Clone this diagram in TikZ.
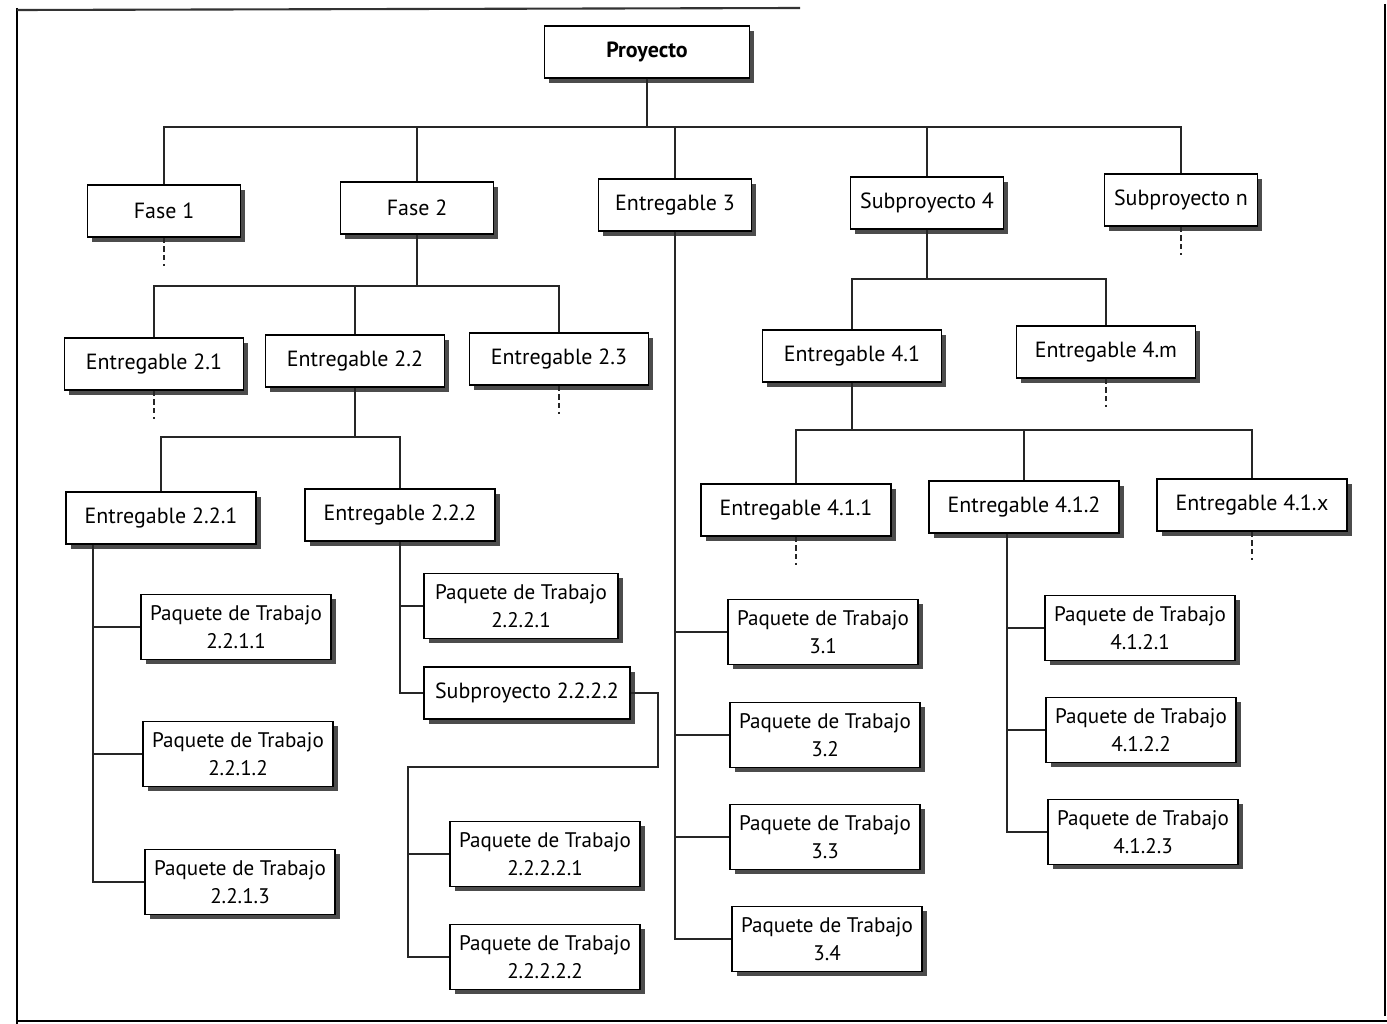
\documentclass[tikz,border=0pt]{standalone}
\usepackage{fontspec}
\setmainfont{PT Sans}
\usepackage{tikz}
\usetikzlibrary{shadows,calc}

\begin{document}
\begin{tikzpicture}[
  x=0.02cm,y=-0.02cm,
  box/.style={rectangle,draw=black,line width=1pt,fill=white,inner sep=0pt,
              minimum height=1.03cm,align=center,font=\fontsize{12.5}{16}\selectfont,
              drop shadow={shadow xshift=2.8pt,shadow yshift=-2.8pt,opacity=1,fill=black!70}},
  l1/.style={box,minimum width=3.06cm},
  l2/.style={box,minimum width=3.58cm},
  l3/.style={box,minimum width=3.8cm},
  pkg/.style={box,minimum width=3.8cm,minimum height=1.3cm,font=\fontsize{12}{16}\selectfont},
  lnk/.style={line width=1pt,black!85},
  cont/.style={lnk,dash pattern=on 3pt off 2pt}
]
\useasboundingbox (0,0) rectangle (1387,1024);
\draw[line width=1.2pt] (17,8) -- (17,1024);
\draw[line width=1.2pt,black!80] (17,10) -- (800,8);
\draw[line width=1.2pt] (1385,4) -- (1385,1016);
\draw[line width=1.4pt] (17,1021) -- (1387,1021);

\node[box,minimum width=4.1cm,font=\fontsize{12.5}{16}\selectfont\bfseries] (proj) at (647,52) {Proyecto};
\node[l1] (f1) at (164,211) {Fase 1};
\node[l1] (f2) at (417,208) {Fase 2};
\node[l1] (e3) at (675,205) {Entregable 3};
\node[l1] (s4) at (927,203) {Subproyecto 4};
\node[l1] (sn) at (1181,200) {Subproyecto n};

\node[l2] (e21) at (154,364) {Entregable 2.1};
\node[l2] (e22) at (355,361) {Entregable 2.2};
\node[l2] (e23) at (559,359) {Entregable 2.3};
\node[l2] (e41) at (852,356) {Entregable 4.1};
\node[l2] (e4m) at (1106,352) {Entregable 4.m};

\node[l3] (e221) at (161,518) {Entregable 2.2.1};
\node[l3] (e222) at (400,515) {Entregable 2.2.2};
\node[l3] (e411) at (796,510) {Entregable 4.1.1};
\node[l3] (e412) at (1024,507) {Entregable 4.1.2};
\node[l3] (e41x) at (1252,505) {Entregable 4.1.x};

\node[pkg] (pt2211) at (236,627) {Paquete de Trabajo\\2.2.1.1};
\node[pkg] (pt2212) at (238,754) {Paquete de Trabajo\\2.2.1.2};
\node[pkg] (pt2213) at (240,882) {Paquete de Trabajo\\2.2.1.3};
\node[pkg,minimum width=3.88cm] (pt2221) at (521,606) {Paquete de Trabajo\\2.2.2.1};
\node[l3,minimum width=4.12cm] (s2222) at (527,693) {Subproyecto 2.2.2.2};
\node[pkg] (pt22221) at (545,854) {Paquete de Trabajo\\2.2.2.2.1};
\node[pkg] (pt22222) at (545,957) {Paquete de Trabajo\\2.2.2.2.2};
\node[pkg] (pt31) at (823,632) {Paquete de Trabajo\\3.1};
\node[pkg] (pt32) at (825,735) {Paquete de Trabajo\\3.2};
\node[pkg] (pt33) at (825,837) {Paquete de Trabajo\\3.3};
\node[pkg] (pt34) at (827,939) {Paquete de Trabajo\\3.4};
\node[pkg] (pt4121) at (1140,628) {Paquete de Trabajo\\4.1.2.1};
\node[pkg] (pt4122) at (1141,730) {Paquete de Trabajo\\4.1.2.2};
\node[pkg] (pt4123) at (1143,832) {Paquete de Trabajo\\4.1.2.3};

\coordinate (y1) at (0,127);
\coordinate (y2) at (0,286);
\coordinate (y3) at (0,437);
\coordinate (y4) at (0,279);
\coordinate (y5) at (0,430);
\coordinate (x221) at (93,0);
\coordinate (x412) at (1007,0);
\coordinate (k1) at (658,767);
\coordinate (k2) at (408,767);

\foreach \n in {f1,f2,e3,s4,sn} \draw[lnk] (proj.south) -- (proj.south |- y1) -| (\n.north);
\foreach \n in {e21,e22,e23} \draw[lnk] (f2.south) -- (f2.south |- y2) -| (\n.north);
\foreach \n in {e221,e222} \draw[lnk] (e22.south) -- (e22.south |- y3) -| (\n.north);
\foreach \n in {e41,e4m} \draw[lnk] (s4.south) -- (s4.south |- y4) -| (\n.north);
\foreach \n in {e411,e412,e41x} \draw[lnk] (e41.south) -- (e41.south |- y5) -| (\n.north);

\foreach \n in {pt2211,pt2212,pt2213} \draw[lnk] (e221.south -| x221) |- (\n.west);
\foreach \n in {pt2221,s2222} \draw[lnk] (e222.south) |- (\n.west);
\foreach \n in {pt31,pt32,pt33,pt34} \draw[lnk] (e3.south) |- (\n.west);
\foreach \n in {pt4121,pt4122,pt4123} \draw[lnk] (e412.south -| x412) |- (\n.west);
\draw[lnk] (s2222.east) -| (k1) -- (k2) |- (pt22221.west);
\draw[lnk] (k2) |- (pt22222.west);

\foreach \n in {f1,sn,e21,e23,e4m,e411,e41x} \draw[cont] (\n.south) -- ++(0,28);
\end{tikzpicture}
\end{document}
